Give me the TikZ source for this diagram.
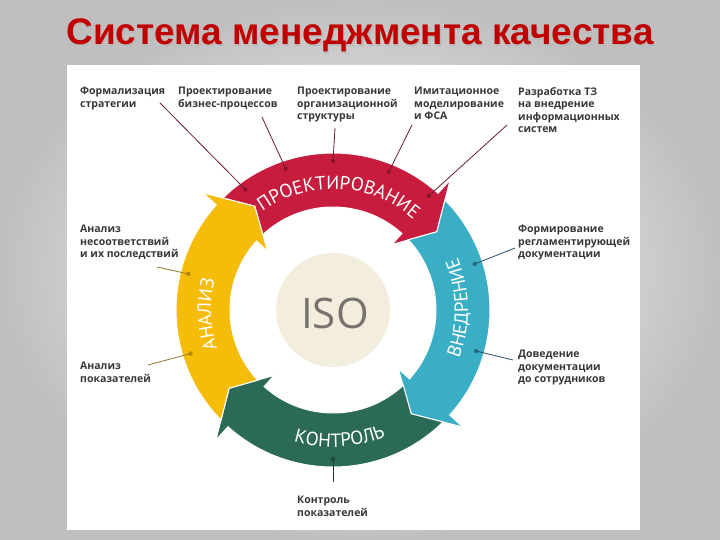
\documentclass[tikz,border=0pt]{standalone}
\usepackage{fontspec}
\setmainfont{Open Sans}
\newfontfamily\titlefont{Liberation Sans}
\newfontfamily\ringfamily{PT Sans}
\usepackage{tikz}
\usetikzlibrary{calc}
\usetikzlibrary{decorations.text}
\definecolor{crimson}{RGB}{200, 28, 62}
\definecolor{amber}{RGB}{245, 188, 10}
\definecolor{lagoon}{RGB}{58, 174, 196}
\definecolor{pine}{RGB}{44, 106, 88}
\definecolor{linen}{RGB}{243, 237, 222}
\definecolor{slate}{RGB}{120, 115, 110}
\definecolor{ink}{RGB}{55, 55, 55}
\definecolor{titlered}{RGB}{192, 0, 0}
\definecolor{maroon}{RGB}{105, 30, 48}
\definecolor{olive}{RGB}{150, 118, 40}
\definecolor{deepsea}{RGB}{40, 82, 105}
\definecolor{forest}{RGB}{28, 60, 48}
\newcommand{\ringfont}{\ringfamily\fontsize{19}{19}\selectfont}

\begin{document}
\begin{tikzpicture}[x=1pt, y=1pt,
    lbl/.style={anchor=north west, align=left, inner sep=0pt, text=ink,
                font=\fontsize{10.5}{12.5}\selectfont\bfseries},
    leader/.style={line width=0.8pt},
    dot/.style={circle, inner sep=0pt, minimum size=4.5pt},
    ringtext/.style={decorate, decoration={text along path, text align=center,
                text color=white, text={|\ringfont|#1}}}]
            \useasboundingbox (0,0) rectangle (720,540);
            \shade[inner color=white, outer color=gray!50]      (0,0) rectangle (720,540);
            \fill[white]                                          (67,10) rectangle (640,475);
            \node[text=gray!55,  font=\titlefont\bfseries\fontsize{37}{37}\selectfont] (shadow) at (361.5,503) {Система менеджмента качества};
            \node[text=titlered, font=\titlefont\bfseries\fontsize{37}{37}\selectfont] (title)  at (360,504.5) {Система менеджмента качества};

            \begin{scope}[shift={(333,230)}]
            \foreach \col/\tp/\t in {crimson/127/37, lagoon/37/-53, pine/-53/-143, amber/217/127}
                \filldraw[draw=white, line width=1pt, fill=\col]
                    (\tp+7.5:157) arc[start angle=\tp+7.5, end angle=\t+11, radius=157]
                    -- (\t+11:175) -- (\t:130) -- (\t+11:88) -- (\t+11:103)
                    arc[start angle=\t+11, end angle=\tp+6, radius=103]
                    -- (\tp:130) -- cycle;
            \fill[linen] (0,0) circle (57);
            \node[text=slate, font=\fontsize{42}{42}\selectfont] (iso) at (2,-3) {ISO};

            \path[ringtext=ПРОЕКТИРОВАНИЕ] (135:121) arc[start angle=135, end angle=39, radius=121];
            \path[ringtext=ВНЕДРЕНИЕ]      (-28:135) arc[start angle=-28, end angle=30, radius=135];
            \path[ringtext=КОНТРОЛЬ]       (245:137) arc[start angle=245, end angle=301, radius=137];
            \path[ringtext=АНАЛИЗ]         (207:122) arc[start angle=207, end angle=157, radius=122];

            \node[dot, fill=crimson!70!black] (d1)  at (126:149) {};
            \node[dot, fill=crimson!70!black] (d2)  at (108.5:149) {};
            \node[dot, fill=crimson!70!black] (d3)  at (90:149) {};
            \node[dot, fill=crimson!70!black] (d4)  at (68:149) {};
            \node[dot, fill=crimson!70!black] (d5)  at (50:149) {};
            \node[dot, fill=amber!75!black]   (d6)  at (166:149) {};
            \node[dot, fill=amber!75!black]   (d7)  at (197:149) {};
            \node[dot, fill=lagoon!65!black]  (d8)  at (18:149) {};
            \node[dot, fill=lagoon!65!black]  (d9)  at (-16:149) {};
            \node[dot, fill=pine!70!black]    (d10) at (270:149) {};
            \end{scope}

            \node[lbl] (l1)  at (80,453)  {Формализация\\стратегии};
            \node[lbl] (l2)  at (178,453) {Проектирование\\бизнес-процессов};
            \node[lbl] (l3)  at (297,453) {Проектирование\\организационной\\структуры};
            \node[lbl] (l4)  at (414,453) {Имитационное\\моделирование\\и ФСА};
            \node[lbl] (l5)  at (518,453) {Разработка ТЗ\\на внедрение\\информационных\\систем};
            \node[lbl] (l6)  at (80,315)  {Анализ\\несоответствий\\и их последствий};
            \node[lbl] (l7)  at (80,178)  {Анализ\\показателей};
            \node[lbl] (l8)  at (518,315) {Формирование\\регламентирующей\\документации};
            \node[lbl] (l9)  at (518,190) {Доведение\\документации\\до сотрудников};
            \node[lbl] (l10) at (297,44)  {Контроль\\показателей};

            \coordinate (e1)  at (160,437);
            \coordinate (e2)  at (262,423);
            \coordinate (e3)  at (335,412);
            \coordinate (e4)  at (412,415);
            \coordinate (e5)  at (507,415);
            \coordinate (e6)  at (157,273);
            \coordinate (e7)  at (148,175);
            \coordinate (e8)  at (515,292);
            \coordinate (e9)  at (513,180);
            \coordinate (e10) at (333,58);

            \foreach \i in {1,...,5}
                \draw[leader, maroon] (e\i) -- (d\i.center);
            \draw[leader, olive]   (e6)  -- (d6.center);
            \draw[leader, olive]   (e7)  -- (d7.center);
            \draw[leader, deepsea] (e8)  -- (d8.center);
            \draw[leader, deepsea] (e9)  -- (d9.center);
            \draw[leader, forest]  (e10) -- (d10.center);
\end{tikzpicture}
\end{document}
